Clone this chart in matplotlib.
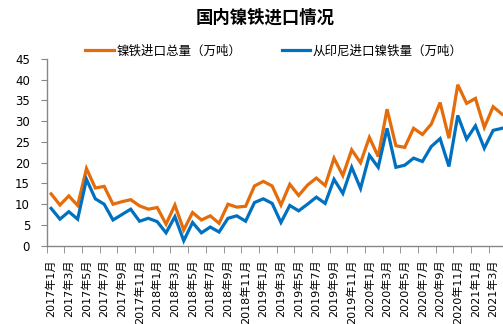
import matplotlib
matplotlib.use("Agg")
import matplotlib.pyplot as plt
import numpy as np

# Months 2017-01 .. 2021-04
months = ["{0}年{1}月".format(y, m) for y in range(2017, 2022) for m in range(1, 13)][:52]

# 镍铁进口总量（万吨）
total = [12.5, 9.8, 12.0, 9.7, 18.6, 13.9, 14.3, 10.0, 10.6, 11.1, 9.6, 8.8, 9.2, 5.2,
         9.8, 3.8, 8.0, 6.2, 7.2, 5.4, 10.0, 9.3, 9.5, 14.4, 15.5, 14.4, 9.8, 14.8,
         12.1, 14.6, 16.3, 14.5, 21.1, 16.9, 23.1, 20.0, 26.1, 21.5, 32.9, 24.1, 23.7,
         28.3, 26.8, 29.3, 34.5, 25.9, 38.8, 34.3, 35.5, 28.5, 33.5, 31.7]
# 从印尼进口镍铁量（万吨）
indonesia = [9.0, 6.4, 8.2, 6.4, 16.0, 11.3, 10.0, 6.2, 7.5, 8.8, 5.9, 6.6, 5.8, 3.1,
             7.0, 1.2, 5.6, 3.1, 4.5, 3.3, 6.6, 7.2, 5.9, 10.4, 11.3, 10.2, 5.6, 9.7,
             8.4, 10.0, 11.7, 10.2, 16.0, 12.6, 18.9, 13.8, 21.8, 18.9, 28.3, 18.9, 19.4,
             21.1, 20.3, 23.9, 25.8, 19.1, 31.4, 25.7, 28.9, 23.5, 27.8, 28.3]

series_names = ["镍铁进口总量（万吨）", "从印尼进口镍铁量（万吨）"]
colors = ["#E46C0A", "#0070C0"]

plt.rcParams["font.family"] = ["DejaVu Sans", "Noto Sans CJK SC"]

fig = plt.figure(figsize=(5.03, 3.24), dpi=100)
ax = fig.add_axes([46.7 / 503, 1 - 245.7 / 324, (506.4 - 46.7) / 503, (245.7 - 59) / 324])

x = np.arange(len(months))
for vals, name, c in zip([total, indonesia], series_names, colors):
    ax.plot(x, vals, color=c, linewidth=2.3, label=name, solid_joinstyle="miter")

# Axes style
ax.set_xlim(-0.5, len(months) - 0.5)
ax.set_ylim(0, 45)
ax.set_yticks(range(0, 46, 5))
for s in ["top", "right"]:
    ax.spines[s].set_visible(False)
for s in ["left", "bottom"]:
    ax.spines[s].set_color("#868686")
    ax.spines[s].set_linewidth(1.0)

ax.set_xticks(x[::2])
ax.set_xticklabels(months[::2], rotation=90, fontsize=8)
ax.tick_params(axis="x", which="major", length=0, pad=10)
ax.set_xticks(np.arange(-0.5, len(months), 2), minor=True)
ax.tick_params(axis="x", which="minor", length=5, color="#868686", direction="out")
ax.tick_params(axis="y", labelsize=8.5, length=4, color="#868686", pad=8)

# Title and legend
fig.text(0.527, 0.945, "国内镍铁进口情况", ha="center", va="center", fontsize=12.5,
         fontweight="bold", family=["Noto Sans CJK SC"])
fig.legend(loc="center", bbox_to_anchor=(0.545, 0.843), ncol=2, frameon=False,
           prop={"family": ["Noto Sans CJK SC"], "size": 9}, handlelength=2.3,
           columnspacing=3.2, handletextpad=0.2)

fig.savefig("out.png", dpi=100)
